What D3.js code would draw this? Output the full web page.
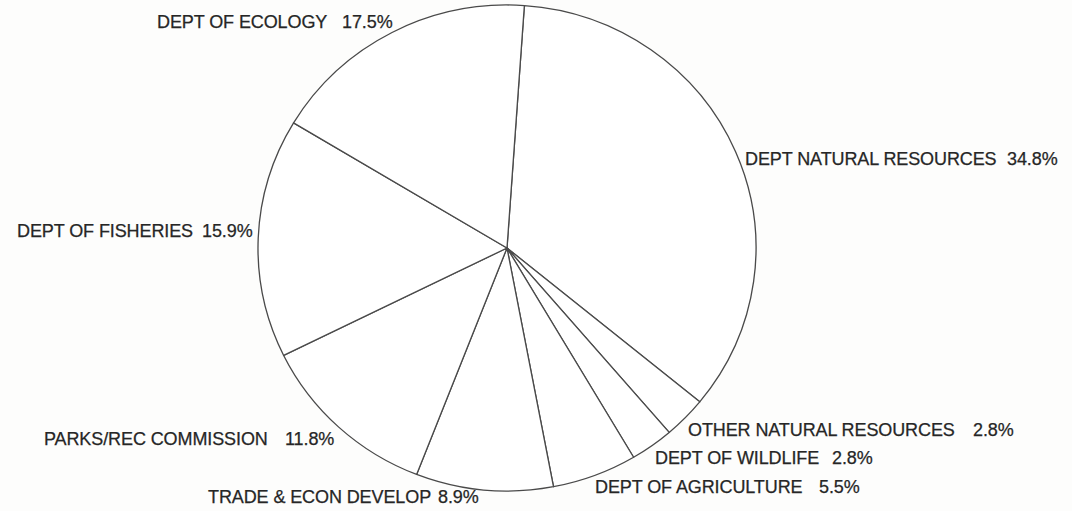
<!DOCTYPE html>
<html>
<head>
<meta charset="utf-8">
<script src="https://cdn.jsdelivr.net/npm/d3@7"></script>
<style>
  html, body { margin: 0; padding: 0; background: #fdfdfc; }
  svg { display: block; }
  text {
    font-family: "Liberation Sans", Arial, Helvetica, sans-serif;
    font-size: 18px;
    letter-spacing: -0.1px;
    fill: #262626;
    stroke: #262626;
    stroke-width: 0.25px;
  }
</style>
</head>
<body>
<svg id="chart" width="1072" height="511"></svg>
<script>
// Agency shares, clockwise from just right of 12 o'clock
const agencies = [
  "DEPT NATURAL RESOURCES",
  "OTHER NATURAL RESOURCES",
  "DEPT OF WILDLIFE",
  "DEPT OF AGRICULTURE",
  "TRADE & ECON DEVELOP",
  "PARKS/REC COMMISSION",
  "DEPT OF FISHERIES",
  "DEPT OF ECOLOGY"
];
const shares = [34.8, 2.8, 2.8, 5.5, 8.9, 11.8, 15.9, 17.5];

// Label placement: [name x, percent x, baseline y]
const labelLayout = [
  [745, 1007, 165],
  [688, 973, 436],
  [655, 832, 464],
  [595, 819, 493],
  [208, 438, 503],
  [44, 285, 445],
  [17, 202, 237],
  [157, 342, 28]
];

const svg = d3.select("#chart");
const cx = 507, cy = 248, r = 246;

const pie = d3.pie()
  .sort(null)
  .value(d => d)
  .startAngle(4 * Math.PI / 180)
  .endAngle(4 * Math.PI / 180 + 2 * Math.PI);

const arc = d3.arc().innerRadius(0).outerRadius(r);

const g = svg.append("g")
  .attr("transform", `translate(${cx},${cy}) scale(${249 / r},${243 / r})`);

g.selectAll("path")
  .data(pie(shares))
  .join("path")
  .attr("d", arc)
  .attr("fill", "#ffffff")
  .attr("stroke", "#4a4a4a")
  .attr("stroke-width", 1.3)
  .attr("stroke-linejoin", "round");

const labels = svg.append("g");
agencies.forEach((name, i) => {
  const [nx, px, y] = labelLayout[i];
  labels.append("text").attr("x", nx).attr("y", y).text(name);
  labels.append("text").attr("x", px).attr("y", y).text(shares[i].toFixed(1) + "%");
});
</script>
</body>
</html>
